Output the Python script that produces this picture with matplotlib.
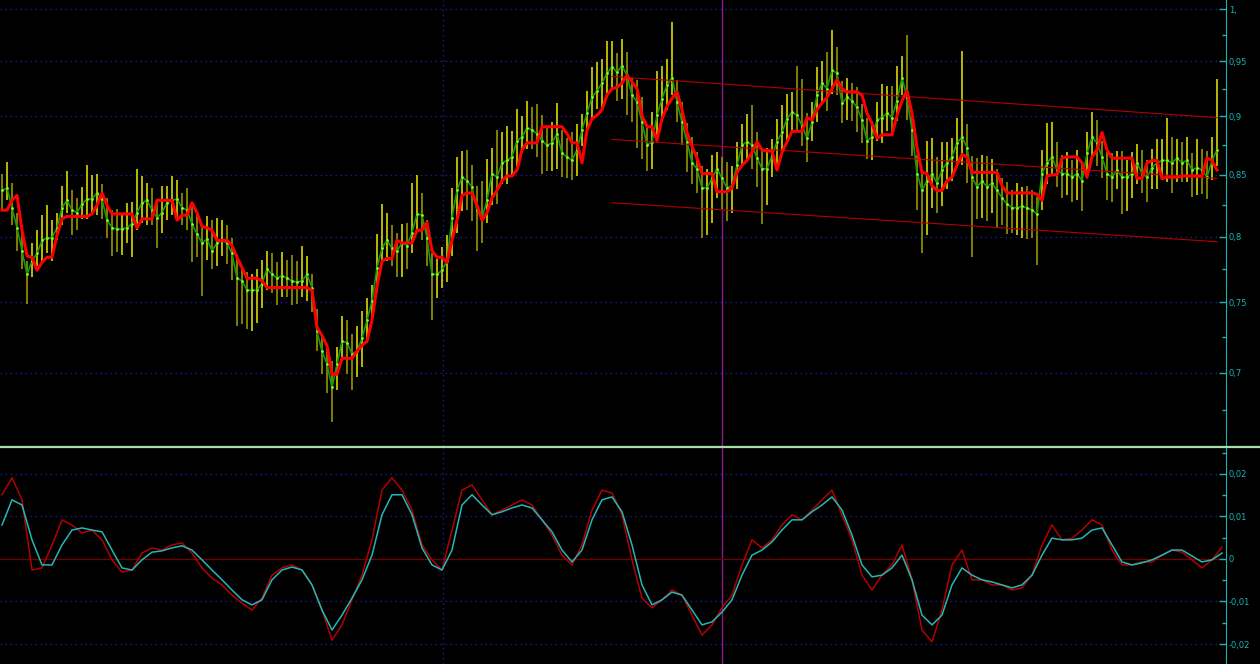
import matplotlib.pyplot as plt
import numpy as np
from matplotlib.lines import Line2D
from matplotlib.ticker import NullFormatter

# --- price bars (one bar every 5 px in the picture) ---
close = [0.837, 0.839, 0.823, 0.807, 0.789, 0.771, 0.781, 0.787, 0.797, 0.799,
         0.799, 0.807, 0.823, 0.829, 0.821, 0.819, 0.826, 0.830, 0.830, 0.835,
         0.830, 0.813, 0.807, 0.806, 0.806, 0.807, 0.810, 0.819, 0.827, 0.829,
         0.821, 0.815, 0.819, 0.827, 0.829, 0.830, 0.823, 0.821, 0.810, 0.802,
         0.795, 0.798, 0.789, 0.795, 0.797, 0.795, 0.787, 0.768, 0.766, 0.759,
         0.759, 0.759, 0.764, 0.775, 0.771, 0.768, 0.770, 0.768, 0.766, 0.765,
         0.766, 0.771, 0.761, 0.729, 0.715, 0.706, 0.690, 0.706, 0.722, 0.721,
         0.713, 0.715, 0.724, 0.737, 0.751, 0.776, 0.791, 0.797, 0.791, 0.789,
         0.795, 0.793, 0.803, 0.818, 0.817, 0.799, 0.771, 0.771, 0.774, 0.781,
         0.815, 0.837, 0.848, 0.845, 0.840, 0.821, 0.815, 0.829, 0.851, 0.848,
         0.860, 0.862, 0.865, 0.879, 0.882, 0.890, 0.888, 0.885, 0.879, 0.875,
         0.877, 0.885, 0.868, 0.865, 0.862, 0.871, 0.888, 0.903, 0.917, 0.923,
         0.930, 0.939, 0.945, 0.940, 0.946, 0.937, 0.919, 0.913, 0.895, 0.875,
         0.878, 0.901, 0.916, 0.928, 0.935, 0.913, 0.895, 0.878, 0.860, 0.855,
         0.839, 0.839, 0.847, 0.855, 0.847, 0.839, 0.841, 0.858, 0.875, 0.878,
         0.875, 0.864, 0.855, 0.855, 0.866, 0.878, 0.886, 0.898, 0.904, 0.901,
         0.892, 0.881, 0.895, 0.919, 0.930, 0.925, 0.942, 0.939, 0.912, 0.917,
         0.914, 0.908, 0.897, 0.879, 0.882, 0.897, 0.899, 0.903, 0.899, 0.914,
         0.935, 0.917, 0.888, 0.851, 0.837, 0.845, 0.851, 0.843, 0.854, 0.860,
         0.865, 0.877, 0.882, 0.873, 0.848, 0.840, 0.845, 0.840, 0.843, 0.837,
         0.831, 0.826, 0.823, 0.823, 0.824, 0.823, 0.821, 0.818, 0.851, 0.860,
         0.865, 0.854, 0.851, 0.851, 0.848, 0.851, 0.845, 0.868, 0.882, 0.877,
         0.865, 0.851, 0.848, 0.854, 0.848, 0.848, 0.851, 0.860, 0.851, 0.848,
         0.856, 0.860, 0.862, 0.862, 0.860, 0.864, 0.860, 0.862, 0.854, 0.856,
         0.854, 0.848, 0.862, 0.871]

# distance from close to high / low, in thousandths
up = [14, 22, 20, 12, 16, 10, 14, 18, 20, 26,
      14, 12, 18, 24, 16, 12, 14, 28, 20, 16,
      12, 18, 14, 16, 12, 20, 18, 36, 22, 14,
      18, 12, 22, 14, 20, 16, 12, 18, 14, 16,
      12, 18, 24, 20, 16, 14, 12, 18, 10, 14,
      12, 16, 18, 14, 16, 12, 18, 14, 20, 16,
      27, 14, 10, 16, 12, 14, 18, 12, 18, 16,
      14, 18, 20, 16, 12, 26, 35, 22, 18, 14,
      15, 18, 40, 32, 18, 14, 16, 12, 18, 20,
      24, 28, 22, 26, 18, 20, 30, 34, 22, 40,
      26, 30, 22, 28, 18, 24, 20, 26, 22, 16,
      18, 27, 20, 16, 24, 22, 14, 20, 28, 26,
      22, 30, 24, 18, 25, 22, 16, 20, 22, 18,
      26, 40, 30, 24, 52, 20, 18, 16, 22, 14,
      18, 16, 20, 14, 18, 22, 16, 20, 18, 24,
      35, 22, 16, 18, 14, 20, 24, 22, 18, 45,
      42, 22, 18, 26, 20, 34, 38, 24, 20, 18,
      16, 18, 14, 20, 14, 16, 30, 24, 28, 32,
      20, 58, 18, 16, 14, 34, 30, 22, 24, 18,
      16, 22, 78, 20, 18, 24, 22, 26, 20, 18,
      16, 18, 14, 20, 16, 18, 16, 14, 20, 34,
      30, 24, 16, 18, 14, 20, 16, 18, 22, 20,
      14, 18, 20, 16, 22, 14, 18, 16, 20, 14,
      16, 20, 18, 37, 22, 16, 18, 20, 14, 24,
      18, 22, 20, 63]
dn = [16, 10, 14, 18, 14, 22, 12, 10, 16, 12,
      18, 10, 14, 10, 20, 14, 12, 16, 12, 18,
      16, 14, 22, 18, 20, 12, 26, 14, 16, 20,
      12, 24, 16, 14, 12, 18, 14, 16, 30, 18,
      40, 16, 14, 18, 12, 16, 20, 35, 32, 28,
      30, 24, 18, 16, 14, 20, 16, 14, 18, 16,
      12, 20, 18, 14, 16, 20, 23, 18, 14, 22,
      25, 18, 20, 16, 14, 18, 12, 16, 14, 20,
      26, 18, 16, 14, 20, 22, 34, 18, 13, 16,
      30, 34, 28, 24, 28, 32, 20, 18, 26, 22,
      18, 20, 16, 22, 14, 18, 16, 20, 28, 22,
      24, 30, 20, 18, 16, 22, 14, 18, 20, 16,
      22, 18, 20, 26, 30, 36, 24, 40, 32, 22,
      23, 18, 20, 22, 16, 18, 20, 26, 18, 20,
      40, 38, 36, 24, 25, 27, 22, 20, 18, 16,
      20, 24, 45, 30, 18, 22, 16, 20, 18, 14,
      18, 20, 16, 24, 18, 20, 22, 20, 18, 20,
      18, 22, 20, 16, 20, 18, 22, 16, 14, 18,
      16, 20, 22, 30, 50, 44, 28, 24, 30, 22,
      20, 18, 24, 30, 64, 26, 30, 28, 24, 30,
      22, 24, 20, 22, 25, 25, 22, 40, 30, 18,
      16, 14, 20, 18, 20, 22, 25, 18, 16, 20,
      18, 22, 20, 16, 30, 28, 20, 18, 16, 20,
      18, 22, 16, 18, 25, 20, 16, 18, 22, 23,
      20, 18, 16, 14]

# thick red step line
ma = [0.821, 0.821, 0.829, 0.833, 0.805, 0.785, 0.784, 0.774, 0.780, 0.784,
      0.784, 0.801, 0.814, 0.816, 0.816, 0.816, 0.816, 0.816, 0.818, 0.825,
      0.835, 0.825, 0.818, 0.818, 0.818, 0.818, 0.818, 0.807, 0.814, 0.814,
      0.814, 0.829, 0.829, 0.829, 0.829, 0.813, 0.817, 0.817, 0.827, 0.819,
      0.808, 0.807, 0.805, 0.797, 0.797, 0.797, 0.793, 0.784, 0.776, 0.768,
      0.768, 0.768, 0.766, 0.761, 0.761, 0.761, 0.761, 0.761, 0.761, 0.761,
      0.761, 0.761, 0.759, 0.732, 0.726, 0.719, 0.699, 0.699, 0.710, 0.710,
      0.710, 0.715, 0.719, 0.722, 0.737, 0.762, 0.781, 0.783, 0.783, 0.797,
      0.795, 0.795, 0.795, 0.805, 0.805, 0.811, 0.789, 0.784, 0.784, 0.780,
      0.797, 0.813, 0.833, 0.835, 0.835, 0.825, 0.813, 0.819, 0.831, 0.837,
      0.845, 0.849, 0.849, 0.854, 0.871, 0.877, 0.877, 0.877, 0.891, 0.891,
      0.891, 0.891, 0.891, 0.885, 0.877, 0.877, 0.860, 0.888, 0.898, 0.901,
      0.906, 0.919, 0.925, 0.926, 0.930, 0.937, 0.931, 0.925, 0.901, 0.891,
      0.891, 0.879, 0.898, 0.909, 0.916, 0.922, 0.906, 0.886, 0.874, 0.864,
      0.851, 0.851, 0.851, 0.836, 0.836, 0.836, 0.839, 0.852, 0.858, 0.862,
      0.869, 0.878, 0.871, 0.870, 0.870, 0.854, 0.869, 0.878, 0.887, 0.887,
      0.887, 0.899, 0.897, 0.906, 0.912, 0.917, 0.925, 0.933, 0.925, 0.922,
      0.922, 0.922, 0.919, 0.903, 0.894, 0.881, 0.884, 0.884, 0.884, 0.901,
      0.914, 0.923, 0.903, 0.873, 0.852, 0.851, 0.841, 0.837, 0.837, 0.845,
      0.848, 0.858, 0.867, 0.865, 0.852, 0.852, 0.852, 0.852, 0.852, 0.852,
      0.841, 0.835, 0.835, 0.835, 0.835, 0.835, 0.835, 0.834, 0.829, 0.849,
      0.850, 0.850, 0.864, 0.865, 0.865, 0.865, 0.860, 0.848, 0.865, 0.871,
      0.886, 0.871, 0.864, 0.864, 0.864, 0.864, 0.864, 0.847, 0.847, 0.860,
      0.862, 0.862, 0.847, 0.848, 0.848, 0.848, 0.849, 0.849, 0.849, 0.849,
      0.849, 0.864, 0.862, 0.854]

# regression channel (bar index -> price)
chan_x = [122.0, 243.0]
chan_top = [0.936, 0.899]
chan_mid = [0.880, 0.847]
chan_bot = [0.827, 0.796]

# lower window, one point every 2 bars
osc_fast = [0.0151, 0.0191, 0.0139, -0.0026, -0.0021, 0.0033, 0.0092, 0.0080, 0.0061, 0.0068,
            0.0045, -0.0002, -0.0031, -0.0026, 0.0014, 0.0026, 0.0021, 0.0033, 0.0038, 0.0014,
            -0.0021, -0.0045, -0.0061, -0.0085, -0.0104, -0.0120, -0.0092, -0.0038, -0.0021, -0.0014,
            -0.0026, -0.0061, -0.0120, -0.0191, -0.0155, -0.0096, -0.0038, 0.0045, 0.0162, 0.0191,
            0.0162, 0.0115, 0.0033, -0.0002, -0.0026, 0.0068, 0.0162, 0.0174, 0.0139, 0.0104,
            0.0115, 0.0127, 0.0139, 0.0127, 0.0092, 0.0056, 0.0009, -0.0014, 0.0033, 0.0115,
            0.0162, 0.0155, 0.0104, -0.0002, -0.0092, -0.0115, -0.0096, -0.0073, -0.0085, -0.0132,
            -0.0179, -0.0155, -0.0115, -0.0085, -0.0014, 0.0045, 0.0026, 0.0045, 0.0080, 0.0104,
            0.0092, 0.0115, 0.0139, 0.0162, 0.0104, 0.0045, -0.0038, -0.0073, -0.0038, -0.0014,
            0.0033, -0.0049, -0.0167, -0.0195, -0.0120, -0.0014, 0.0021, -0.0049, -0.0049, -0.0061,
            -0.0061, -0.0073, -0.0068, -0.0038, 0.0033, 0.0080, 0.0045, 0.0049, 0.0068, 0.0092,
            0.0080, 0.0021, -0.0014, -0.0014, -0.0007, -0.0007, 0.0009, 0.0021, 0.0016, -0.0002,
            -0.0021, -0.0002, 0.0028]
osc_slow = [0.0080, 0.0139, 0.0127, 0.0045, -0.0014, -0.0014, 0.0033, 0.0068, 0.0073, 0.0068,
            0.0064, 0.0021, -0.0021, -0.0026, -0.0002, 0.0016, 0.0019, 0.0026, 0.0031, 0.0021,
            -0.0002, -0.0026, -0.0049, -0.0073, -0.0096, -0.0108, -0.0096, -0.0049, -0.0026, -0.0019,
            -0.0026, -0.0061, -0.0120, -0.0167, -0.0132, -0.0092, -0.0049, 0.0009, 0.0104, 0.0151,
            0.0151, 0.0104, 0.0026, -0.0014, -0.0026, 0.0021, 0.0127, 0.0151, 0.0127, 0.0104,
            0.0111, 0.0120, 0.0127, 0.0120, 0.0092, 0.0064, 0.0021, -0.0007, 0.0021, 0.0092,
            0.0139, 0.0146, 0.0111, 0.0033, -0.0061, -0.0108, -0.0096, -0.0078, -0.0085, -0.0120,
            -0.0155, -0.0148, -0.0125, -0.0096, -0.0038, 0.0009, 0.0021, 0.0040, 0.0068, 0.0092,
            0.0092, 0.0111, 0.0127, 0.0146, 0.0115, 0.0056, -0.0014, -0.0042, -0.0038, -0.0021,
            0.0009, -0.0049, -0.0132, -0.0155, -0.0132, -0.0061, -0.0021, -0.0038, -0.0049, -0.0054,
            -0.0061, -0.0068, -0.0061, -0.0038, 0.0009, 0.0049, 0.0045, 0.0045, 0.0049, 0.0068,
            0.0073, 0.0033, -0.0007, -0.0014, -0.0009, -0.0002, 0.0009, 0.0021, 0.0021, 0.0007,
            -0.0007, -0.0002, 0.0014]

price_ticks = [0.7, 0.75, 0.8, 0.85, 0.9, 0.95, 1.0]
price_labels = ['0,7', '0,75', '0,8', '0,85', '0,9', '0,95', '1,']
price_minor = [0.675, 0.725, 0.775, 0.825, 0.875, 0.925, 0.975]
osc_ticks = [-0.02, -0.01, 0.0, 0.01, 0.02]
osc_labels = ['-0,02', '-0,01', '0', '0,01', '0,02']
osc_minor = [-0.015, -0.005, 0.005, 0.015, 0.025]

grid_bar = 88.2     # blue dotted vertical
cursor_bar = 144.0  # purple vertical

teal = '#1cb4b4'
navy = '#1a1a88'
dots = (0, (1.2, 2.4))

x = np.arange(len(close))
hi = np.array(close) + np.array(up) / 1000
lo = np.array(close) - np.array(dn) / 1000
bar_col = ['#c8c800' if i > 0 and close[i] >= close[i - 1] else '#8a8a00' for i in range(len(close))]
osc_x = np.arange(0, 2 * len(osc_fast), 2)

fig = plt.figure(figsize=(12.6, 6.64), dpi=100, facecolor='black')
ax1 = fig.add_axes([0, 218 / 664, 1226 / 1260, 446 / 664])
ax2 = fig.add_axes([0, 0, 1226 / 1260, 216 / 664])

for ax in (ax1, ax2):
    ax.set_facecolor('black')
    ax.spines['left'].set_visible(False)
    ax.spines['top'].set_visible(False)
    ax.spines['bottom'].set_visible(False)
    ax.spines['right'].set_color(teal)
    ax.set_xticks([])
    ax.set_xlim(-0.4, 244.8)
    ax.yaxis.tick_right()
    ax.tick_params(axis='y', which='major', direction='in', length=5, width=1,
                   color=teal, labelcolor=teal, labelsize=6, pad=2)
    ax.tick_params(axis='y', which='minor', direction='in', length=3, width=1, color=teal)
    ax.axvline(grid_bar, color=navy, lw=1, linestyle=dots, zorder=0)
    ax.axvline(cursor_bar, color='#8c1a8c', lw=1, zorder=1)

# upper window
ax1.set_yscale('log')
ax1.set_ylim(0.6515, 1.0089)
ax1.set_yticks(price_ticks)
ax1.set_yticklabels(price_labels)
ax1.set_yticks(price_minor, minor=True)
ax1.yaxis.set_minor_formatter(NullFormatter())
for t in price_ticks:
    ax1.axhline(t, color=navy, lw=1, linestyle=dots, zorder=0)

ax1.vlines(x, lo, hi, colors=bar_col, lw=1.3, zorder=2)
ax1.plot(x, close, color='#109a10', lw=1.2, zorder=3)
ax1.plot(x, close, ls='none', marker='.', ms=2, color='#80ff20', zorder=3)
ax1.plot(chan_x, chan_top, color='#b00000', lw=0.8, zorder=3)
ax1.plot(chan_x, chan_mid, color='#b00000', lw=0.8, zorder=3)
ax1.plot(chan_x, chan_bot, color='#b00000', lw=0.8, zorder=3)
ax1.plot(x, ma, color='#ff0000', lw=2.2, zorder=4)

# lower window
ax2.set_ylim(-0.0247, 0.0261)
ax2.set_yticks(osc_ticks)
ax2.set_yticklabels(osc_labels)
ax2.set_yticks(osc_minor, minor=True)
for t in osc_ticks:
    if t != 0:
        ax2.axhline(t, color=navy, lw=1, linestyle=dots, zorder=0)
ax2.axhline(0, color='#7a0000', lw=0.9, zorder=1)
ax2.plot(osc_x, osc_fast, color='#b40000', lw=1.1, zorder=2)
ax2.plot(osc_x, osc_slow, color='#22b8b8', lw=1.1, zorder=3)

# separator between the windows
fig.add_artist(Line2D([0, 1], [1 - 446.5 / 664, 1 - 446.5 / 664], transform=fig.transFigure,
                      color='#a8dca8', lw=1.6))

fig.savefig('out.png', dpi=100, facecolor='black')
